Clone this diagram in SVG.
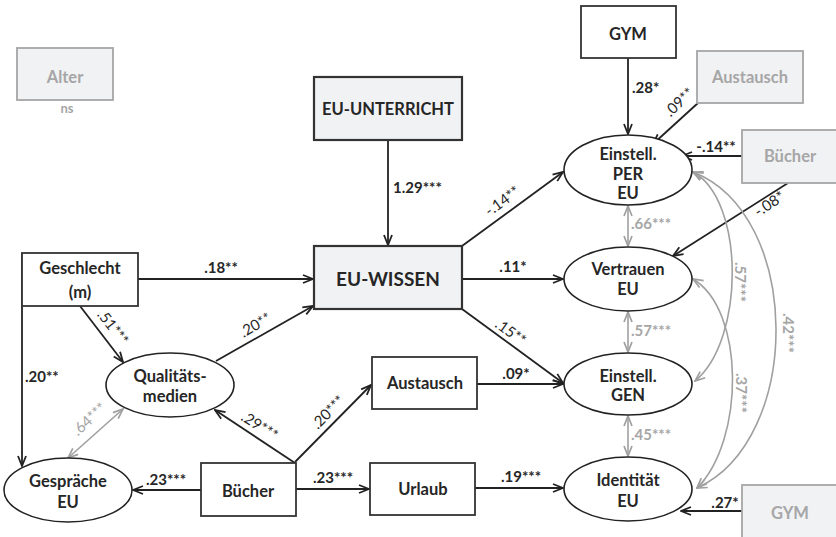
<svg xmlns="http://www.w3.org/2000/svg" width="836" height="537" viewBox="0 0 836 537">
<style>
text{font-family:Lato,"Open Sans","Liberation Sans",sans-serif;font-weight:bold;fill:#262626}
.n{font-size:16.5px;text-anchor:middle}
.big{font-size:19px;text-anchor:middle}
.g{fill:#a6a6a6}
.c{font-size:15px}
.r{font-weight:normal}
.m{text-anchor:middle}
.box{fill:#fff;stroke:#333;stroke-width:1.8}
.sh{fill:#f1f2f4;stroke:#333;stroke-width:2.2}
.gb{fill:#f1f2f4;stroke:#a6a6a6;stroke-width:1.8}
.el{fill:#fff;stroke:#222;stroke-width:1.6}
.a{fill:none;stroke:#222;stroke-width:1.8;marker-end:url(#ah)}
.ga{fill:none;stroke:#a0a0a0;stroke-width:1.6;marker-start:url(#gh);marker-end:url(#gh)}
</style>
<defs>
<marker id="ah" viewBox="0 0 12 10" refX="11" refY="5" markerWidth="12" markerHeight="10" markerUnits="userSpaceOnUse" orient="auto">
<path d="M1,1 L11,5 L1,9" fill="none" stroke="#222" stroke-width="1.8"/>
</marker>
<marker id="gh" viewBox="0 0 12 10" refX="11" refY="5" markerWidth="12" markerHeight="10" markerUnits="userSpaceOnUse" orient="auto-start-reverse">
<path d="M1,1 L11,5 L1,9" fill="none" stroke="#a0a0a0" stroke-width="1.7"/>
</marker>
</defs>

<g id="connectors">
<line class="a" x1="388" y1="140" x2="388" y2="245"/>
<text class="c" x="393" y="193">1.29***</text>
<line class="a" x1="628" y1="58" x2="628" y2="134"/>
<text class="c" x="632" y="93">.28*</text>
<line class="a" x1="698" y1="103" x2="653" y2="144"/>
<text class="c r" transform="translate(680,103) rotate(-43)" text-anchor="middle" dy="4">.09**</text>
<line class="a" x1="742" y1="156" x2="682" y2="156"/>
<text class="c m" x="716" y="152">-.14**</text>
<line class="a" x1="788" y1="183" x2="673" y2="256"/>
<text class="c r" transform="translate(770,205) rotate(-33)" text-anchor="middle" dy="4">-.08*</text>
<line class="a" x1="742" y1="511" x2="681" y2="511"/>
<text class="c m" x="725" y="508">.27*</text>

<line class="a" x1="138" y1="279" x2="313" y2="279"/>
<text class="c m" x="221" y="273">.18**</text>
<line class="a" x1="80" y1="306" x2="123" y2="362"/>
<text class="c r" transform="translate(112,328) rotate(52)" text-anchor="middle" dy="4">.51***</text>
<polyline class="a" points="22,253 22,466"/>
<text class="c" x="25" y="382">.20**</text>
<line class="a" x1="216" y1="361" x2="313" y2="306"/>
<text class="c r" transform="translate(256,326) rotate(-30)" text-anchor="middle" dy="4">.20**</text>
<line class="a" x1="295" y1="463" x2="215" y2="410"/>
<text class="c r" transform="translate(259,427) rotate(33)" text-anchor="middle" dy="4">.29***</text>
<line class="ga" x1="68" y1="458" x2="123" y2="409"/>
<text class="c r g" transform="translate(90,420) rotate(-42)" text-anchor="middle" dy="4">.64***</text>
<line class="a" x1="201" y1="490" x2="133" y2="490"/>
<text class="c m" x="166" y="485">.23***</text>
<line class="a" x1="295" y1="462" x2="371" y2="385"/>
<text class="c r" transform="translate(329,413) rotate(-45)" text-anchor="middle" dy="4">.20***</text>
<line class="a" x1="477" y1="384" x2="563" y2="384"/>
<text class="c m" x="516" y="379">.09*</text>
<line class="a" x1="296" y1="489" x2="369" y2="489"/>
<text class="c m" x="333" y="483">.23***</text>
<line class="a" x1="475" y1="488" x2="563" y2="488"/>
<text class="c m" x="521" y="482">.19***</text>

<line class="a" x1="462" y1="246" x2="563" y2="172"/>
<text class="c r" transform="translate(503,202) rotate(-36)" text-anchor="middle" dy="4">-.14**</text>
<line class="a" x1="462" y1="279" x2="563" y2="279"/>
<text class="c m" x="513" y="272">.11*</text>
<line class="a" x1="462" y1="309" x2="563" y2="383"/>
<text class="c r" transform="translate(510,333) rotate(36)" text-anchor="middle" dy="4">.15**</text>

<line class="ga" x1="628" y1="206" x2="628" y2="246"/>
<text class="c g" x="631" y="229">.66***</text>
<line class="ga" x1="628" y1="312" x2="628" y2="352"/>
<text class="c g" x="631" y="336">.57***</text>
<line class="ga" x1="628" y1="416" x2="628" y2="456"/>
<text class="c g" x="631" y="440">.45***</text>

<path class="ga" d="M693,172 C745,200 745,340 695,381"/>
<text class="c g" transform="translate(740,282) rotate(90)" text-anchor="middle" dy="5">.57***</text>
<path class="ga" d="M693,172 C803,215 803,440 697,488"/>
<text class="c g" transform="translate(788,333) rotate(90)" text-anchor="middle" dy="5">.42***</text>
<path class="ga" d="M693,279 C745,310 745,440 697,488"/>
<text class="c g" transform="translate(741,393) rotate(90)" text-anchor="middle" dy="5">.37***</text>
</g>

<g id="alter"><rect class="gb" x="17" y="48" width="96" height="52"/><text class="n g" x="65" y="83">Alter</text><text class="g" x="67" y="113" font-size="13" text-anchor="middle">ns</text></g>
<g id="eu-unterricht"><rect class="sh" x="314" y="77" width="148" height="63"/><text class="n" x="388" y="115" font-size="16">EU-UNTERRICHT</text></g>
<g id="eu-wissen"><rect class="sh" x="314" y="246" width="148" height="63"/><text class="big" x="388" y="286">EU-WISSEN</text></g>
<g id="gym-top"><rect class="box" x="581" y="6" width="95" height="52"/><text class="n" x="628" y="40">GYM</text></g>
<g id="austausch-grau"><rect class="gb" x="697" y="51" width="106" height="52"/><text class="n g" x="750" y="83">Austausch</text></g>
<g id="buecher-grau"><rect class="gb" x="742" y="130" width="100" height="53"/><text class="n g" x="790" y="162">Bücher</text></g>
<g id="gym-grau"><rect class="gb" x="742" y="485" width="100" height="60"/><text class="n g" x="790" y="519">GYM</text></g>
<g id="einstell-per"><ellipse class="el" cx="628" cy="170" rx="64" ry="35"/><text class="n" x="628" y="160">Einstell.</text><text class="n" x="628" y="180">PER</text><text class="n" x="628" y="199">EU</text></g>
<g id="vertrauen"><ellipse class="el" cx="628" cy="279" rx="64" ry="32"/><text class="n" x="628" y="275">Vertrauen</text><text class="n" x="628" y="295">EU</text></g>
<g id="einstell-gen"><ellipse class="el" cx="628" cy="384" rx="64" ry="31"/><text class="n" x="628" y="382">Einstell.</text><text class="n" x="628" y="401">GEN</text></g>
<g id="identitaet"><ellipse class="el" cx="628" cy="489" rx="64" ry="32"/><text class="n" x="628" y="486">Identität</text><text class="n" x="628" y="507">EU</text></g>
<g id="geschlecht"><rect class="box" x="22" y="253" width="116" height="53"/><text class="n" x="80" y="274">Geschlecht</text><text class="n" x="80" y="298">(m)</text></g>
<g id="qualitaetsmedien"><ellipse class="el" cx="170" cy="385" rx="64" ry="32"/><text class="n" x="170" y="382">Qualitäts-</text><text class="n" x="170" y="402">medien</text></g>
<g id="gespraeche"><ellipse class="el" cx="68" cy="490" rx="64" ry="32"/><text class="n" x="68" y="487">Gespräche</text><text class="n" x="68" y="508">EU</text></g>
<g id="buecher"><rect class="box" x="201" y="463" width="95" height="53"/><text class="n" x="248" y="497" font-size="18">Bücher</text></g>
<g id="austausch"><rect class="box" x="372" y="357" width="105" height="52"/><text class="n" x="425" y="389">Austausch</text></g>
<g id="urlaub"><rect class="box" x="370" y="463" width="105" height="52"/><text class="n" x="423" y="495">Urlaub</text></g>
</svg>
